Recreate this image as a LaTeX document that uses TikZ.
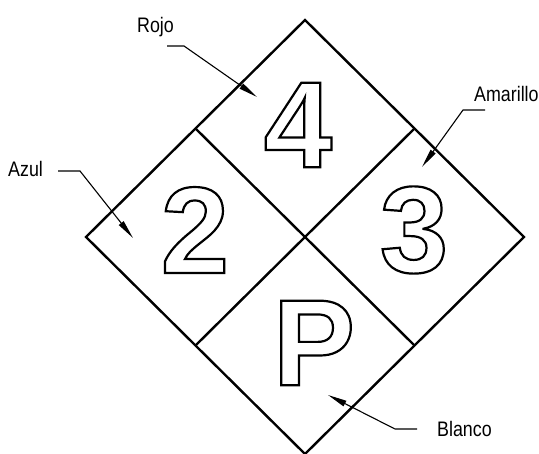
\documentclass[tikz,border=0pt]{standalone}
\usepackage{fontspec}
\setmainfont{Liberation Sans}
\usetikzlibrary{arrows.meta}
\definecolor{inkBlack}{RGB}{0,0,0}

% hollow (outlined) glyphs via the pdf text render mode
\newcommand{\hollow}[1]{\special{pdf:literal direct 1 Tr 2.2 w}#1\special{pdf:literal direct 0 Tr}}

\tikzset{
  panel/.style={draw=inkBlack,line width=2.4pt,line join=miter},
  hazard/.style={font=\fontsize{123}{123}\selectfont\bfseries,inner sep=0pt},
  callout/.style={font=\fontsize{21}{21}\selectfont,inner sep=0pt,xscale=0.85,anchor=base west},
  leader/.style={draw=inkBlack,line width=1.1pt,-{Triangle[length=19pt,width=6pt]}}
}

\begin{document}
\begin{tikzpicture}[x=1pt,y=-1pt]

% fixed canvas, same proportions as the 539x454 sheet
\path[use as bounding box] (0,0) rectangle (539,454);

% outer diamond
\draw[panel] (305,20) -- (524,237) -- (305,454) -- (86,237) -- cycle;

% inner cross splitting it into four squares
\draw[panel] (195.5,128.5) -- (414.5,345.5);
\draw[panel] (414.5,128.5) -- (195.5,345.5);

% hazard ratings
\node[hazard] (rojoNum) at (298,125) {\hollow{4}};
\node[hazard] (azulNum) at (195,230) {\hollow{2}};
\node[hazard] (amarilloNum) at (414,230) {\hollow{3}};
\node[hazard] (blancoNum) at (314,343) {\hollow{P}};

% colour labels
\node[callout] (rojo) at (137,33) {Rojo};
\node[callout] (azul) at (8,177) {Azul};
\node[callout] (amarillo) at (474,102) {Amarillo};
\node[callout] (blanco) at (437,437) {Blanco};

% leader knees and tips
\coordinate (rojoStart) at (167,46);
\coordinate (rojoKnee) at (184,46);
\coordinate (rojoTip) at (257,97);
\coordinate (azulStart) at (58,171);
\coordinate (azulKnee) at (80,171);
\coordinate (azulTip) at (133,238);
\coordinate (amarilloStart) at (485,110);
\coordinate (amarilloKnee) at (463,110);
\coordinate (amarilloTip) at (422,167);
\coordinate (blancoStart) at (417,429);
\coordinate (blancoKnee) at (395,429);
\coordinate (blancoTip) at (328,395);

% leaders
\draw[leader] (rojoStart) -- (rojoKnee) -- (rojoTip);
\draw[leader] (azulStart) -- (azulKnee) -- (azulTip);
\draw[leader] (amarilloStart) -- (amarilloKnee) -- (amarilloTip);
\draw[leader] (blancoStart) -- (blancoKnee) -- (blancoTip);

\end{tikzpicture}
\end{document}
